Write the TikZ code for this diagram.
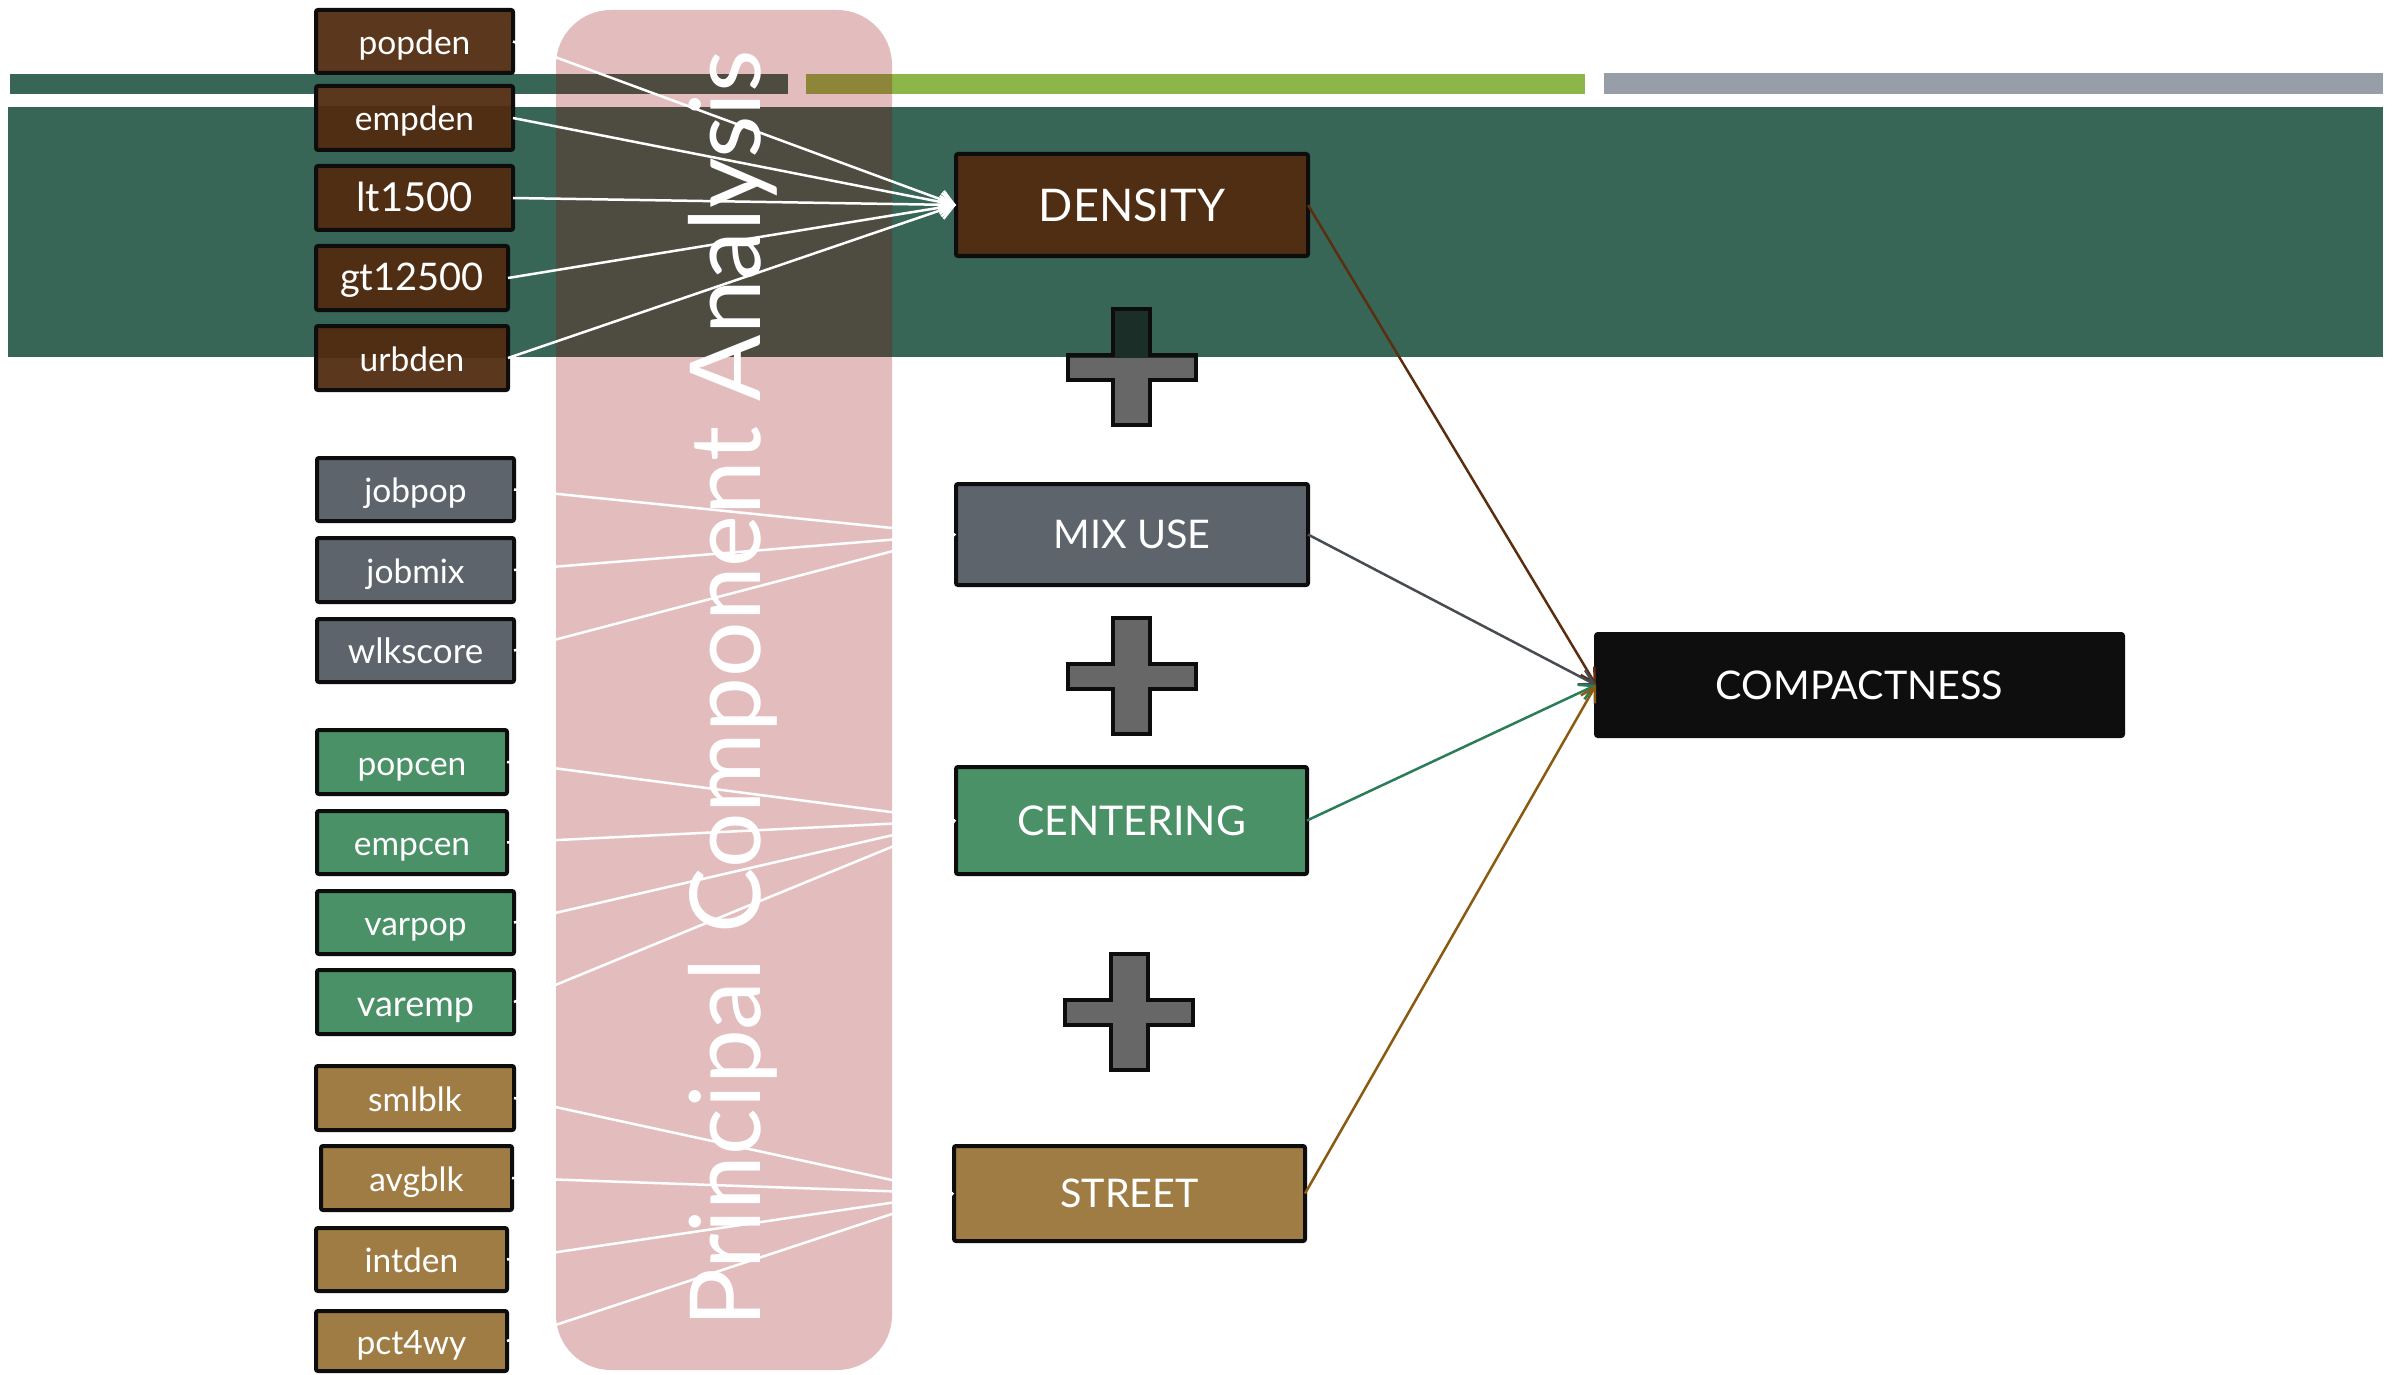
\documentclass[tikz,border=0pt]{standalone}
\usepackage{fontspec}
\setmainfont{Lato}
\usetikzlibrary{arrows.meta}
\pgfdeclarelayer{bg}
\pgfdeclarelayer{fills}
\pgfsetlayers{bg,fills,main}

\definecolor{bandgreen}{RGB}{55,102,87}
\definecolor{barlime}{RGB}{140,181,74}
\definecolor{bargrey}{RGB}{151,158,168}
\definecolor{pcared}{RGB}{147,0,5}
\definecolor{boxline}{RGB}{13,13,13}
\definecolor{denout}{RGB}{90,55,29}
\definecolor{denin}{RGB}{79,46,20}
\definecolor{mixfill}{RGB}{93,100,107}
\definecolor{cenfill}{RGB}{74,145,104}
\definecolor{strfill}{RGB}{160,124,69}
\definecolor{compfill}{RGB}{14,14,14}
\definecolor{crossgray}{RGB}{103,103,103}
\definecolor{crossdark}{RGB}{28,46,40}
\definecolor{denlink}{RGB}{90,46,14}
\definecolor{mixlink}{RGB}{70,76,82}
\definecolor{cenlink}{RGB}{43,125,88}
\definecolor{strlink}{RGB}{139,90,16}

\begin{document}
\begin{tikzpicture}[x=1pt,y=-1pt,
  ibox/.style={draw=boxline, line width=4pt, rounded corners=2pt, outer sep=0pt,
    inner sep=0pt, text=white, minimum width=197pt, minimum height=64pt,
    font=\fontsize{33.5}{36}\selectfont, text height=26pt, text depth=0pt},
  cbox/.style={draw=boxline, line width=4pt, rounded corners=2pt, outer sep=0pt,
    inner sep=0pt, text=white, minimum width=352pt, minimum height=102pt,
    font=\fontsize{41}{46}\selectfont, text height=29.4pt, text depth=0pt},
  feedline/.style={white, line width=2.5pt, -{Straight Barb[length=14pt,width=18pt]}},
  tolink/.style={line width=2.5pt, -{Straight Barb[length=14pt,width=16pt]}},
  crosspic/.pic={\filldraw[fill=#1, draw=boxline, line width=4pt]
    (-18.5,-12.5) -- (-18.5,-58) -- (18.5,-58) -- (18.5,-12.5) -- (64,-12.5)
    -- (64,12.5) -- (18.5,12.5) -- (18.5,58) -- (-18.5,58) -- (-18.5,12.5)
    -- (-64,12.5) -- (-64,-12.5) -- cycle;}
]
\useasboundingbox (0,0) rectangle (2399,1375);

% slide background: header bars, green band, translucent PCA column
\begin{pgfonlayer}{bg}
  \fill[white] (0,0) rectangle (2399,1375);
  \fill[bandgreen] (10,74) rectangle (788,94);
  \fill[barlime] (806,74) rectangle (1585,94);
  \fill[bargrey] (1604,73) rectangle (2383,94);
  \fill[bandgreen] (8,107) rectangle (2383,357);
  \fill[pcared, fill opacity=0.26, rounded corners=55pt] (556,10) rectangle (892,1370);
\end{pgfonlayer}

% density indicators
\node[ibox, minimum height=63pt] (popden) at (414.5,41.5) {popden};
\node[ibox] (empden) at (414.5,118) {empden};
\node[ibox, font=\fontsize{40}{44}\selectfont, text height=28pt] (lt1500) at (414.5,198) {lt1500};
\node[ibox, minimum width=192pt, font=\fontsize{38}{42}\selectfont, text height=24pt] (gt12500) at (412,278) {gt12500};
\node[ibox, minimum width=192pt] (urbden) at (412,358) {urbden};

% mixed-use indicators
\node[ibox, fill=mixfill, minimum height=63pt] (jobpop) at (415.5,489.5) {jobpop};
\node[ibox, fill=mixfill] (jobmix) at (415.5,570) {jobmix};
\node[ibox, fill=mixfill, minimum height=63pt, font=\fontsize{35}{38}\selectfont] (wlkscore) at (415.5,650.5) {wlkscore};

% centering indicators
\node[ibox, fill=cenfill, minimum width=190pt] (popcen) at (412,762) {popcen};
\node[ibox, fill=cenfill, minimum width=190pt, minimum height=63pt] (empcen) at (412,842.5) {empcen};
\node[ibox, fill=cenfill, minimum height=63pt] (varpop) at (415.5,922.5) {varpop};
\node[ibox, fill=cenfill, font=\fontsize{36}{40}\selectfont, text height=28pt] (varemp) at (415.5,1002) {varemp};

% street indicators
\node[ibox, fill=strfill, minimum width=198pt] (smlblk) at (415,1098) {smlblk};
\node[ibox, fill=strfill, minimum width=191pt] (avgblk) at (416.5,1178) {avgblk};
\node[ibox, fill=strfill, minimum width=191pt, minimum height=63pt] (intden) at (411.5,1259.5) {intden};
\node[ibox, fill=strfill, minimum width=191pt, minimum height=60pt] (pct4wy) at (411.5,1341) {pct4wy};

% components and index
\node[cbox, fill=denin, font=\fontsize{45}{50}\selectfont, text height=32.2pt] (density) at (1132,205) {DENSITY};
\node[cbox, fill=mixfill, minimum height=101pt, font=\fontsize{39.5}{44}\selectfont, text height=28.3pt] (mixuse) at (1132,534.5) {MIX USE};
\node[cbox, fill=cenfill, minimum width=351pt, minimum height=107pt] (centering) at (1131.5,820.5) {CENTERING};
\node[cbox, fill=strfill, minimum width=351pt, minimum height=95pt, font=\fontsize{39.5}{44}\selectfont, text height=28.3pt] (street) at (1129.5,1193.5) {STREET};
\node[cbox, fill=compfill, minimum width=527pt, font=\fontsize{39.5}{44}\selectfont, text height=28.3pt] (compact) at (1859.5,685) {COMPACTNESS};

% box fills of the density indicators and the plus signs (darker inside the band)
\begin{pgfonlayer}{fills}
  \foreach \n in {popden,empden,lt1500,gt12500,urbden}
    \fill[denout, rounded corners=2pt] (\n.north west) rectangle (\n.south east);
  \pic at (1131.5,367) {crosspic=crossgray};
  \pic at (1131.5,676) {crosspic=crossgray};
  \pic at (1129,1012) {crosspic=crossgray};
  \begin{scope}
    \clip (8,107) rectangle (2383,357);
    \foreach \n in {popden,empden,lt1500,gt12500,urbden}
      \fill[denin, rounded corners=2pt] (\n.north west) rectangle (\n.south east);
    \pic at (1131.5,367) {crosspic=crossdark};
  \end{scope}
\end{pgfonlayer}

% indicators feeding the components
\foreach \n in {popden,empden,lt1500,gt12500,urbden}
  \draw[feedline] (\n.east) -- (density.west);
\foreach \n in {jobpop,jobmix,wlkscore}
  \draw[feedline] (\n.east) -- (mixuse.west);
\foreach \n in {popcen,empcen,varpop,varemp}
  \draw[feedline] (\n.east) -- (centering.west);
\foreach \n in {smlblk,avgblk,intden,pct4wy}
  \draw[feedline] (\n.east) -- (street.west);

% components combined into the index
\draw[tolink, denlink] (density.east) -- (compact.west);
\draw[tolink, mixlink] (mixuse.east) -- (compact.west);
\draw[tolink, cenlink] (centering.east) -- (compact.west);
\draw[tolink, strlink] (street.east) -- (compact.west);

\node[rotate=90, anchor=base, text=white, inner sep=0pt,
  font=\fontsize{98}{100}\selectfont] (pca) at (760,689) {Principal Component Analysis};
\end{tikzpicture}
\end{document}
